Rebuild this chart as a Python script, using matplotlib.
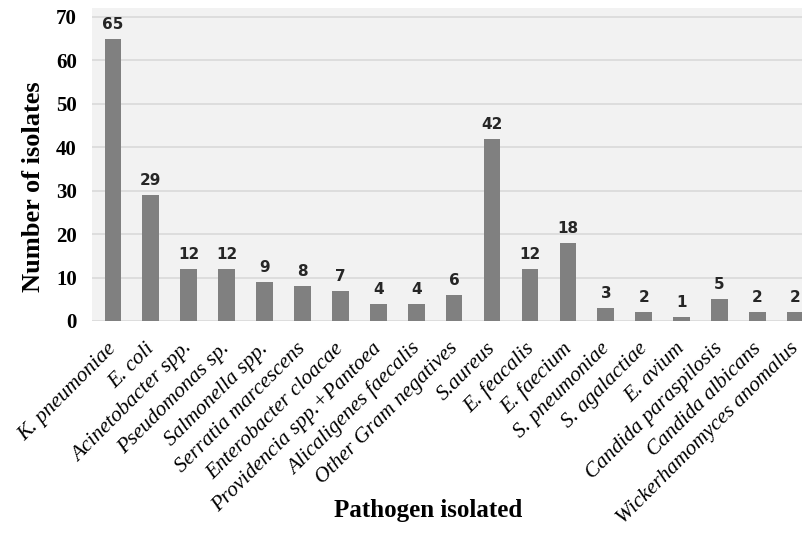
import matplotlib
matplotlib.use("Agg")
import matplotlib.pyplot as plt
import matplotlib.transforms as mtransforms
import numpy as np

categories = ["K. pneumoniae", "E. coli", "Acinetobacter spp.", "Pseudomonas sp.",
              "Salmonella spp.", "Serratia marcescens", "Enterobacter cloacae",
              "Providencia spp.+Pantoea", "Alicaligenes faecalis", "Other Gram negatives",
              "S.aureus", "E. feacalis", "E. faecium", "S. pneumoniae", "S. agalactiae",
              "E. avium", "Candida paraspilosis", "Candida albicans",
              "Wickerhamomyces anomalus"]
values = [65, 29, 12, 12, 9, 8, 7, 4, 4, 6, 42, 12, 18, 3, 2, 1, 5, 2, 2]
yticks = [0, 10, 20, 30, 40, 50, 60, 70]

fig = plt.figure(figsize=(8.03, 5.33), dpi=100)
ax = fig.add_axes([92/803, (533-321)/533, 1 - 92/803, (321-8)/533])
ax.set_facecolor("#f2f2f2")
x = np.arange(len(categories))
ax.bar(x, values, width=0.44, color="#808080", zorder=3)
ax.set_xlim(-0.55, 18.2)
ax.set_ylim(0, 72.05)
ax.set_yticks(yticks)
ax.yaxis.grid(True, color="#d9d9d9", linewidth=1.2, zorder=0)
for s in ax.spines.values():
    s.set_visible(False)
ax.tick_params(axis="both", length=0)
ax.set_yticklabels([str(t) for t in yticks], fontfamily="Liberation Serif",
                   fontweight="bold", fontsize=15)
ax.tick_params(axis="y", pad=11)
ax.set_xticks(x)
ax.set_xticklabels(categories, rotation=45, ha="right", rotation_mode="anchor",
                   fontfamily="Liberation Serif", fontstyle="italic", fontsize=15.5)
ax.tick_params(axis="x", pad=13)
offset = mtransforms.ScaledTranslation(-6/100, 0, fig.dpi_scale_trans)
for lab in ax.get_xticklabels():
    lab.set_transform(lab.get_transform() + offset)
for xi, v in zip(x, values):
    ax.text(xi, v + 1.6, str(v), ha="center", va="bottom", fontsize=11,
            fontweight="bold", fontfamily="DejaVu Sans", color="#262626")
ax.set_ylabel("Number of isolates", fontfamily="Liberation Serif", fontweight="bold",
              fontsize=19)
ax.yaxis.set_label_coords(-0.066, 0.428)
fig.text(0.533, 0.02, "Pathogen isolated", ha="center", va="bottom",
         fontfamily="Liberation Serif", fontweight="bold", fontsize=18)
fig.savefig("out.png", dpi=100)
